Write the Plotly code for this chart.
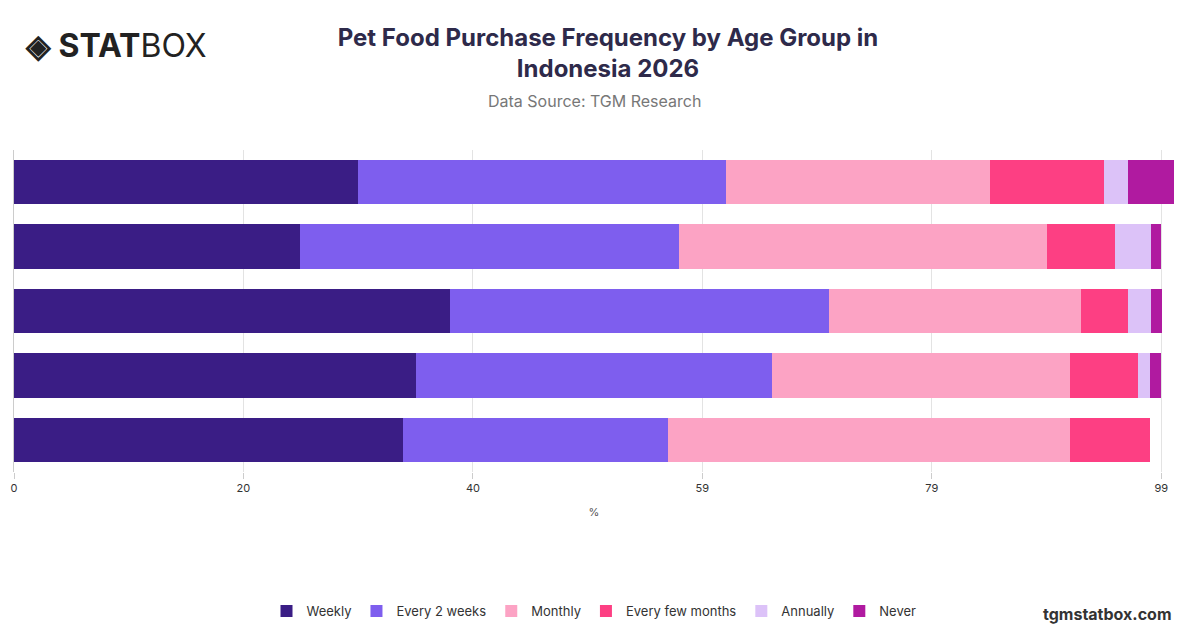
import plotly.graph_objects as go

age_groups = ["18-24", "25-34", "35-44", "45-54", "55+"]
series_names = ["Weekly", "Every 2 weeks", "Monthly", "Every few months", "Annually", "Never"]
weekly = [29.7, 24.7, 37.6, 34.7, 33.6]
every_2_weeks = [31.7, 32.7, 32.7, 30.7, 22.8]
monthly = [22.8, 31.7, 21.8, 25.7, 34.7]
every_few_months = [9.9, 5.9, 4.0, 5.9, 6.9]
annually = [2.0, 3.1, 2.0, 1.0, 0.0]
never = [4.0, 0.9, 1.0, 1.0, 0.0]
tick_vals = [0, 19.8, 39.6, 59.4, 79.2, 99]
tick_text = ["0", "20", "40", "59", "79", "99"]

colors = ["#3a1d85", "#7e5eee", "#fca3c4", "#fd3f83", "#dcc2f8", "#b01aa0"]
values = [weekly, every_2_weeks, monthly, every_few_months, annually, never]

fig = go.Figure()
for name, vals, col in zip(series_names, values, colors):
    fig.add_trace(go.Bar(y=age_groups, x=vals, name=name, orientation="h",
                         marker=dict(color=col, line=dict(width=0))))

fig.update_layout(
    barmode="stack", bargap=0.31,
    width=1200, height=628,
    paper_bgcolor="white", plot_bgcolor="white",
    font=dict(family="Inter, Roboto, sans-serif", color="#333"),
    margin=dict(l=6, r=34, t=142, b=164, autoexpand=False),
    title=dict(text="<b>Pet Food Purchase Frequency by Age Group in<br>Indonesia 2026</b>",
               x=0.5, xanchor="center", y=0.94, yanchor="top",
               font=dict(size=24, color="#2e2a4a")),
    xaxis=dict(range=[0, 100.1], tickvals=tick_vals, ticktext=tick_text,
               showgrid=True, gridcolor="#e3e3e3", zeroline=False,
               ticks="outside", ticklen=6, tickcolor="#ccc",
               tickfont=dict(size=11, color="#333"),
               title=dict(text="%", font=dict(size=11, color="#555"), standoff=14)),
    yaxis=dict(autorange="reversed", showticklabels=False, showline=True,
               linecolor="#ccc", ticks=""),
    legend=dict(orientation="h", x=0.5, xanchor="center", yref="container",
                y=0.016, yanchor="bottom", traceorder="normal",
                font=dict(size=13, color="#333")),
    annotations=[
        dict(text="Data Source: TGM Research", x=0.5, xref="paper", y=1.153, yref="paper",
             showarrow=False, font=dict(size=16, color="#777"), yanchor="middle"),
        dict(text="<b>◈ STAT</b>BOX", x=0.008, xref="paper", y=1.325, yref="paper",
             xanchor="left", yanchor="middle",
             showarrow=False, font=dict(size=32, color="#222")),
        dict(text="<b>tgmstatbox.com</b>", x=1.0, xref="paper", y=-0.44, yref="paper",
             xanchor="right", yanchor="middle",
             showarrow=False, font=dict(size=16, color="#333")),
    ],
)

fig.write_html("out.html")
